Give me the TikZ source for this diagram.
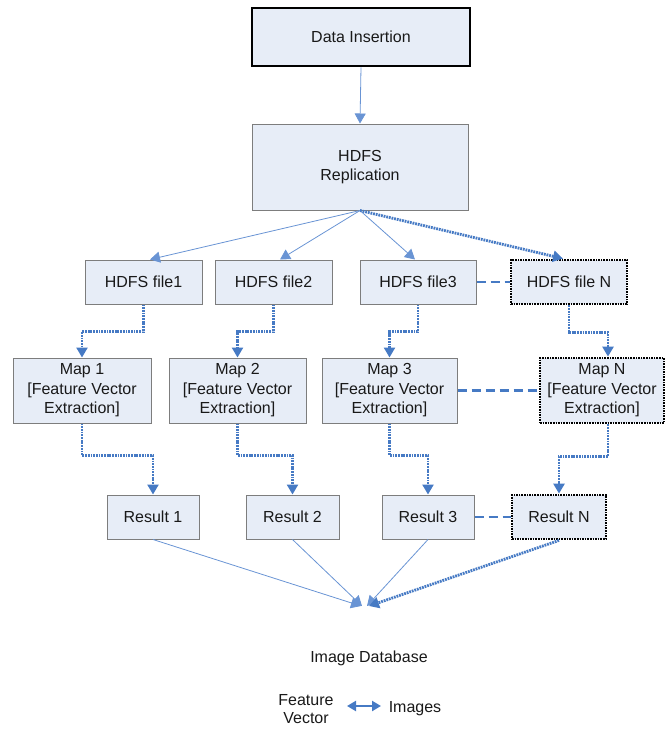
\documentclass[tikz,border=0pt]{standalone}
\usepackage{fontspec}
\setmainfont{Liberation Sans}
\usetikzlibrary{arrows.meta,calc}
\definecolor{boxfill}{RGB}{231,237,247}
\definecolor{boxedge}{RGB}{125,125,125}
\definecolor{flowblue}{RGB}{70,122,196}
\definecolor{thinblue}{RGB}{105,148,212}
\begin{document}
\begin{tikzpicture}[x=1pt,y=-1pt,
  every node/.style={font=\fontsize{16}{19.5}\selectfont, text=black!90},
  stage/.style={draw=boxedge, line width=1pt, fill=boxfill, inner sep=0pt, align=center},
  keystage/.style={stage, draw=black, line width=2.6pt},
  lastlane/.style={stage, draw=black, line width=2.8pt, dash pattern=on 1.6pt off 1pt},
  tip/.style={-{Triangle[length=10pt,width=11pt]}},
  thinflow/.style={tip, draw=thinblue, line width=0.8pt},
  dotflow/.style={tip, draw=flowblue, line width=2.8pt, dash pattern=on 1.8pt off 0.9pt},
  lanelink/.style={draw=flowblue, line width=2.8pt, dash pattern=on 9pt off 5pt}
]
\useasboundingbox (0,0) rectangle (668,729);

% top of the pipeline
\node[keystage, minimum width=218pt, minimum height=58pt] (ins) at (361,37) {Data Insertion};
\node[stage, minimum width=216pt, minimum height=86pt] (rep) at (360,167) {HDFS\\Replication};

% HDFS file row
\node[stage, minimum width=117pt, minimum height=44pt] (f1) at (143.5,282) {HDFS file1};
\node[stage, minimum width=117pt, minimum height=44pt] (f2) at (273.5,282) {HDFS file2};
\node[stage, minimum width=116pt, minimum height=44pt] (f3) at (418,282) {HDFS file3};
\node[lastlane, minimum width=116pt, minimum height=44pt] (fN) at (569,282) {HDFS file N};

% map row
\node[stage, minimum width=138pt, minimum height=65pt] (m1) at (82,390.5) {Map 1\\{[}Feature Vector\\Extraction]};
\node[stage, minimum width=137pt, minimum height=65pt] (m2) at (237.5,390.5) {Map 2\\{[}Feature Vector\\Extraction]};
\node[stage, minimum width=135pt, minimum height=65pt] (m3) at (389.5,390.5) {Map 3\\{[}Feature Vector\\Extraction]};
\node[lastlane, minimum width=124pt, minimum height=65pt] (mN) at (602,390.5) {Map N\\{[}Feature Vector\\Extraction]};

% result row
\node[stage, minimum width=92pt, minimum height=44pt] (r1) at (153,517) {Result 1};
\node[stage, minimum width=93pt, minimum height=44pt] (r2) at (292.5,517) {Result 2};
\node[stage, minimum width=92pt, minimum height=44pt] (r3) at (428,517) {Result 3};
\node[lastlane, minimum width=94pt, minimum height=44pt] (rN) at (559,517) {Result N};

% database and legend
\coordinate (db) at (364,606);
\node (dblabel) at (369,658) {Image Database};
\node[align=center, font=\fontsize{16}{18}\selectfont] (fv) at (306,709) {Feature\\Vector};
\node (img) at (415,709) {Images};
\coordinate (lgA) at (347,706);
\coordinate (lgB) at (381,706);
\draw[{Triangle[length=9pt,width=10pt]}-{Triangle[length=9pt,width=10pt]}, draw=flowblue, line width=2.6pt] (lgA) -- (lgB);

% connectors
\draw[thinflow] (ins.south) -- (rep.north);
\draw[thinflow] (rep.south) -- ([xshift=6.5pt]f1.north);
\draw[thinflow] (rep.south) -- ([xshift=6.5pt]f2.north);
\draw[thinflow] (rep.south) -- ([xshift=-3pt]f3.north);
\draw[dotflow] (rep.south) -- ([xshift=-6pt]fN.north);

\draw[dotflow] (f1.south) -- ++(0,27) -| (m1.north);
\draw[dotflow] (f2.south) -- ++(0,27) -| (m2.north);
\draw[dotflow] (f3.south) -- ++(0,27) -| (m3.north);
\draw[dotflow] (fN.south) -- ++(0,27) -| ([xshift=6pt]mN.north);

\draw[dotflow] (m1.south) -- ++(0,32) -| (r1.north);
\draw[dotflow] (m2.south) -- ++(0,32) -| (r2.north);
\draw[dotflow] (m3.south) -- ++(0,32) -| (r3.north);
\draw[dotflow] ([xshift=6pt]mN.south) -- ++(0,32) -| (rN.north);

\draw[thinflow] (r1.south) -- ([xshift=-3pt]db);
\draw[thinflow] (r2.south) -- ([xshift=-2pt]db);
\draw[thinflow] (r3.south) -- ([xshift=3pt]db);
\draw[dotflow] (rN.south) -- ([xshift=5pt]db);

\draw[lanelink] (f3.east) -- (fN.west);
\draw[lanelink] (m3.east) -- (mN.west);
\draw[lanelink] (r3.east) -- (rN.west);
\end{tikzpicture}
\end{document}
